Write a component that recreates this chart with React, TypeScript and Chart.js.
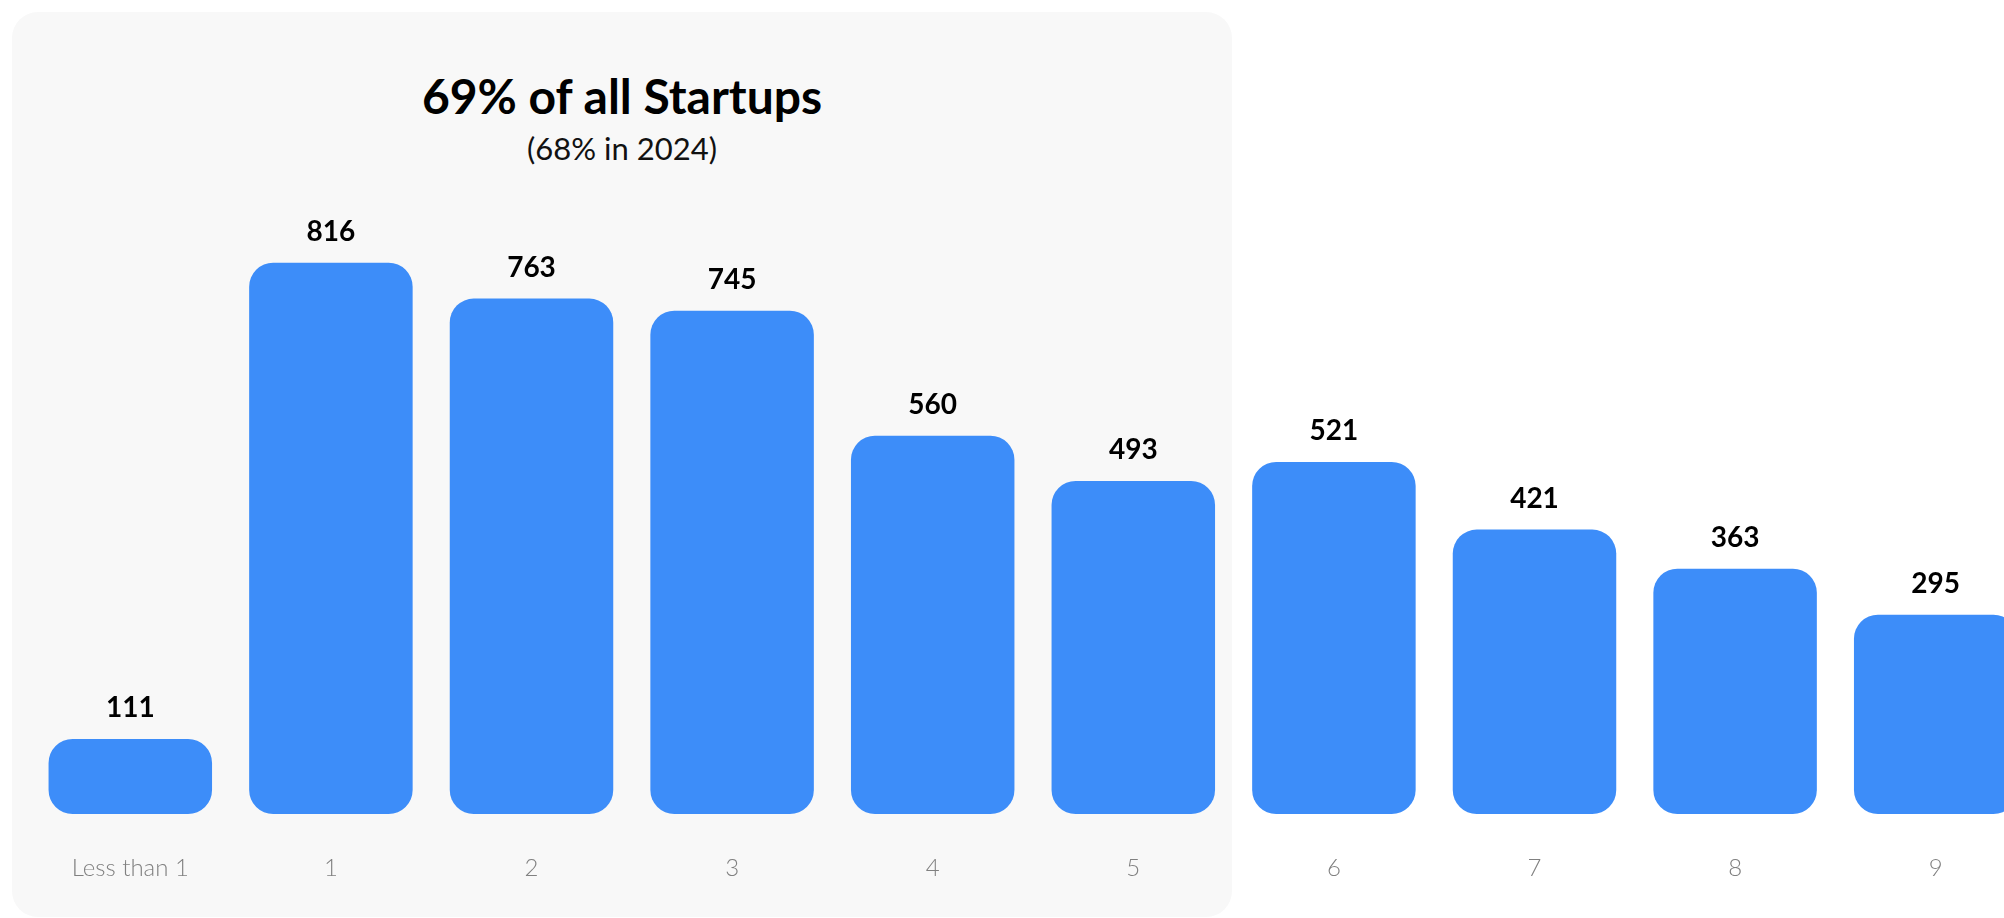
import React, { useEffect, useRef } from "react";
import { Chart, registerables } from "chart.js";

Chart.register(...registerables);

const categories = ["Less than 1", "1", "2", "3", "4", "5", "6", "7", "8", "9"];
const startupCounts = [111, 816, 763, 745, 560, 493, 521, 421, 363, 295];
const titleText = "69% of all Startups";
const subtitleText = "(68% in 2024)";

const BAR_COLOR = "#3d8df9";
const FONT = "Lato, 'Open Sans', sans-serif";

const valueLabelPlugin = {
  id: "valueLabels",
  afterDatasetsDraw(chart: any) {
    const ctx = chart.ctx;
    const meta = chart.getDatasetMeta(0);
    ctx.save();
    ctx.font = `bold 28px ${FONT}`;
    ctx.fillStyle = "#000";
    ctx.textAlign = "center";
    ctx.textBaseline = "middle";
    meta.data.forEach((bar: any, i: number) => {
      ctx.fillText(String(chart.data.datasets[0].data[i]), bar.x, bar.y - 31);
    });
    ctx.restore();
  },
};

export default function App() {
  const canvasRef = useRef<HTMLCanvasElement | null>(null);

  useEffect(() => {
    if (!canvasRef.current) return;
    const chart = new Chart(canvasRef.current, {
      type: "bar",
      data: {
        labels: categories,
        datasets: [
          {
            data: startupCounts,
            backgroundColor: BAR_COLOR,
            borderRadius: 24,
            borderSkipped: false,
            categoryPercentage: 1,
            barPercentage: 0.815,
          },
        ],
      },
      options: {
        responsive: false,
        animation: false,
        devicePixelRatio: 1,
        layout: { padding: { left: 30, right: 4, top: 206, bottom: 34 } },
        plugins: {
          legend: { display: false },
          tooltip: { enabled: false },
          title: { display: false },
        },
        scales: {
          y: { display: false, min: 0, max: 900 },
          x: {
            grid: { display: false, drawTicks: false },
            border: { display: false },
            ticks: {
              color: "#808080",
              font: { family: FONT, size: 24, weight: 300 as any },
              padding: 40,
            },
            afterFit: (scale: any) => {
              scale.height = 70;
            },
          },
        },
      },
      plugins: [valueLabelPlugin],
    });
    return () => chart.destroy();
  }, []);

  return (
    <div
      style={{
        position: "fixed",
        left: 0,
        top: 0,
        width: 2004,
        height: 918,
        overflow: "hidden",
        background: "#fff",
      }}
    >
      <div
        style={{
          position: "absolute",
          left: 12,
          top: 12,
          width: 1220,
          height: 905,
          background: "#f8f8f8",
          borderRadius: 26,
        }}
      />
      <div
        style={{
          position: "absolute",
          left: 12,
          width: 1220,
          top: 69,
          textAlign: "center",
          fontFamily: FONT,
          fontWeight: 700,
          fontSize: 48,
          lineHeight: "54px",
          color: "#000",
        }}
      >
        {titleText}
      </div>
      <div
        style={{
          position: "absolute",
          left: 12,
          width: 1220,
          top: 130,
          textAlign: "center",
          fontFamily: FONT,
          fontWeight: 400,
          fontSize: 31,
          lineHeight: "36px",
          color: "#111",
        }}
      >
        {subtitleText}
      </div>
      <canvas
        ref={canvasRef}
        width={2040}
        height={918}
        style={{ position: "absolute", left: 0, top: 0, width: 2040, height: 918 }}
      />
    </div>
  );
}
